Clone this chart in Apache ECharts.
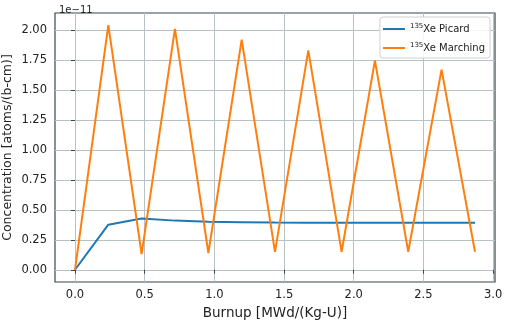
<!DOCTYPE html>
<html>
<head>
<meta charset="utf-8">
<script src="https://cdn.jsdelivr.net/npm/echarts@6/dist/echarts.min.js"></script>
<style>
  html, body { margin: 0; padding: 0; background: #fff; }
  #chart { width: 505px; height: 321px; }
</style>
</head>
<body>
<div id="chart"></div>
<script>
// burnup points (MWd/kg-U)
const burnup = [0, 0.239, 0.478, 0.717, 0.957, 1.196, 1.435, 1.674, 1.913, 2.152, 2.391, 2.63, 2.87]
// concentrations in units of 1e-11
const picard = [0.0, 0.376, 0.427, 0.41, 0.40, 0.397, 0.394, 0.393, 0.393, 0.393, 0.393, 0.393, 0.393]
const marching = [0.0, 2.04, 0.13, 2.01, 0.14, 1.92, 0.15, 1.83, 0.15, 1.745, 0.15, 1.67, 0.15]
const xTicks = [0, 0.5, 1.0, 1.5, 2.0, 2.5, 3.0]
const yTicks = [0, 0.25, 0.5, 0.75, 1.0, 1.25, 1.5, 1.75, 2.0]

const pair = (xs, ys) => xs.map((x, i) => [x, ys[i]])
const font = 'DejaVu Sans'

const chart = echarts.init(document.getElementById('chart'))
const gridLine = { show: true, lineStyle: { color: '#b8c2c4', width: 1 } }

chart.setOption({
    backgroundColor: '#fff',
    animation: false,
    textStyle: { fontFamily: font },
    grid: {
        left: 55, right: 10, top: 13, bottom: 39,
        containLabel: false, outerBoundsMode: 'none',
        show: true, borderColor: '#37474a', borderWidth: 1.2
    },
    title: {
        text: '1e\u221211', left: 54, top: 0,
        textStyle: { fontFamily: font, fontSize: 10, fontWeight: 'normal', color: '#222' }
    },
    legend: {
        right: 15, top: 17, orient: 'vertical',
        icon: 'rect', itemWidth: 22, itemHeight: 2, itemGap: 8,
        backgroundColor: 'rgba(255,255,255,0.85)',
        borderColor: '#d0d0d0', borderWidth: 1, borderRadius: 3,
        padding: [6, 5, 5, 3],
        formatter: name => '{sup|135}{t|' + name.replace('135', '') + '}',
        textStyle: {
            fontFamily: font, fontSize: 10, color: '#222',
            rich: {
                sup: { fontFamily: font, fontSize: 7, padding: [0, 0, 5, 0], color: '#222' },
                t: { fontFamily: font, fontSize: 10, color: '#222' }
            }
        },
        data: ['135Xe Picard', '135Xe Marching']
    },
    xAxis: {
        type: 'value', min: -0.1435, max: 3.0135,
        name: 'Burnup [MWd/(Kg-U)]', nameLocation: 'middle', nameGap: 24,
        nameMoveOverlap: false,
        nameTextStyle: { fontFamily: font, fontSize: 13.5, color: '#222' },
        axisLine: { show: false },
        axisTick: { show: true, customValues: xTicks, length: 4, lineStyle: { color: '#37474a' } },
        axisLabel: {
            customValues: xTicks, fontFamily: font, fontSize: 11.5, color: '#222', margin: 7,
            formatter: v => v.toFixed(1)
        },
        splitLine: gridLine
    },
    yAxis: {
        type: 'value', min: -0.102, max: 2.142,
        name: 'Concentration [atoms/(b-cm)]', nameLocation: 'middle', nameGap: 41,
        nameMoveOverlap: false,
        nameTextStyle: { fontFamily: font, fontSize: 12.5, color: '#222' },
        axisLine: { show: false },
        axisTick: { show: true, customValues: yTicks, length: 4, lineStyle: { color: '#37474a' } },
        axisLabel: {
            customValues: yTicks, fontFamily: font, fontSize: 11.5, color: '#222', margin: 8,
            formatter: v => v.toFixed(2)
        },
        splitLine: gridLine
    },
    series: [
        {
            name: '135Xe Picard', type: 'line', data: pair(burnup, picard),
            showSymbol: false, lineStyle: { color: '#1f77b4', width: 2 }, itemStyle: { color: '#1f77b4' }
        },
        {
            name: '135Xe Marching', type: 'line', data: pair(burnup, marching),
            showSymbol: false, lineStyle: { color: '#ff7f0e', width: 2 }, itemStyle: { color: '#ff7f0e' }
        }
    ]
})
</script>
</body>
</html>
